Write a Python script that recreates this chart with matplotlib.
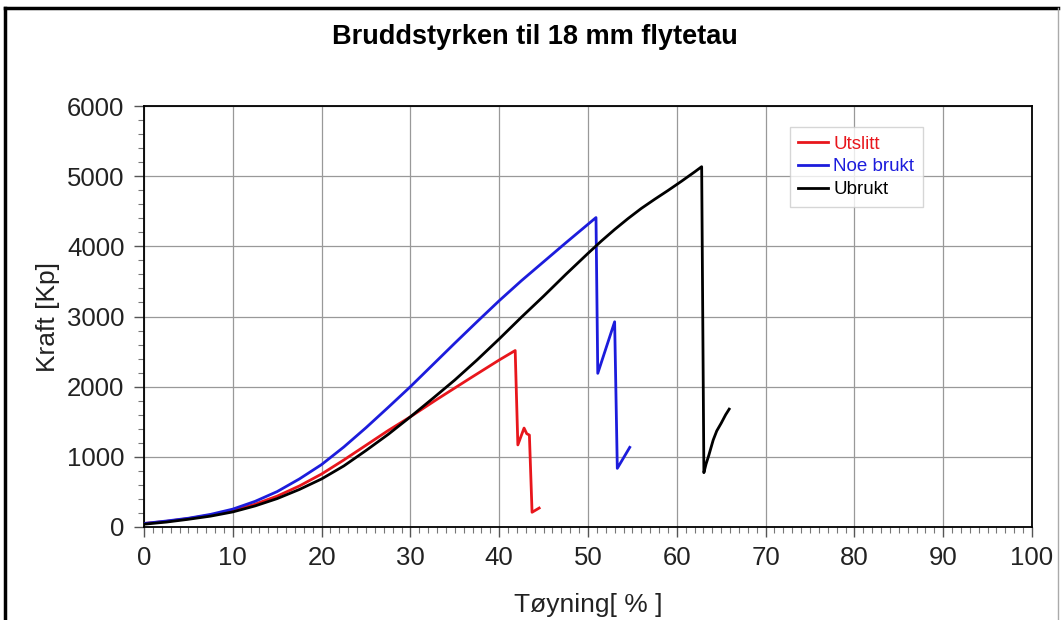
import matplotlib
matplotlib.use('Agg')
import matplotlib.pyplot as plt
from matplotlib.lines import Line2D
from matplotlib.ticker import MultipleLocator

plt.rcParams['font.family'] = ['Liberation Sans', 'DejaVu Sans']

# Utslitt (red)
utslitt_x = [0, 2.5, 5, 7.5, 10, 12.5, 15, 17.5, 20, 22.5, 25, 27.5, 30, 33, 36.7, 40, 41.8,
             42.1, 42.8, 43.1, 43.4, 43.7, 44.5]
utslitt_y = [50, 80, 120, 170, 235, 325, 440, 585, 755, 955, 1165, 1375, 1571, 1820, 2118, 2380, 2515,
             1170, 1410, 1330, 1310, 210, 270]

# Noe brukt (blue)
noe_x = [0, 2.5, 5, 7.5, 10, 12.5, 15, 17.5, 20, 22.5, 25, 27.5, 30, 32.5, 35, 37.5, 40, 42.5,
         45, 47.5, 50.9, 51.1, 53.0, 53.3, 54.7]
noe_y = [50, 85, 125, 180, 255, 365, 505, 685, 890, 1140, 1415, 1705, 2000, 2310, 2620, 2925, 3225, 3510,
         3780, 4050, 4410, 2190, 2925, 836, 1135]

# Ubrukt (black)
ubrukt_x = [0, 2.5, 5, 7.5, 10, 12.5, 15, 17.5, 20, 22.5, 25, 27.5, 30, 32.5, 35, 37.5, 40, 42.5,
            45, 47.5, 50, 51.5, 53, 54.5, 56, 57.5, 59, 60.5, 62, 62.8,
            63.05, 63.3, 63.6, 64.1, 64.5, 65.0, 65.5, 65.9]
ubrukt_y = [40, 70, 110, 155, 215, 300, 405, 535, 685, 870, 1090, 1320, 1570, 1830, 2095, 2380, 2680, 2990,
            3290, 3600, 3900, 4075, 4240, 4395, 4540, 4670, 4795, 4925, 5060, 5135,
            774, 900, 1020, 1240, 1370, 1480, 1600, 1680]

fig = plt.figure(figsize=(10.63, 6.2), dpi=100)
ax = fig.add_axes([144/1063, 1 - 527/620, (1032-144)/1063, (527-106)/620])

ax.plot(utslitt_x, utslitt_y, color='#e8161c', lw=2, label='Utslitt', zorder=3)
ax.plot(noe_x, noe_y, color='#1c1cdc', lw=2, label='Noe brukt', zorder=3)
ax.plot(ubrukt_x, ubrukt_y, color='black', lw=2, label='Ubrukt', zorder=3)

ax.set_xlim(0, 100)
ax.set_ylim(0, 6000)
ax.xaxis.set_major_locator(MultipleLocator(10))
ax.xaxis.set_minor_locator(MultipleLocator(1))
ax.yaxis.set_major_locator(MultipleLocator(1000))
ax.yaxis.set_minor_locator(MultipleLocator(200))
ax.grid(True, which='major', color='#999999', lw=0.9)
ax.tick_params(which='major', length=7, width=1, labelsize=18.5, color='#555555', pad=7,
               labelcolor='#222222')
ax.tick_params(which='minor', length=4, width=0.8, color='#777777')
for s in ax.spines.values():
    s.set_linewidth(1.3)

ax.set_xlabel('Tøyning[ % ]', fontsize=19, labelpad=16, color='#222222')
ax.set_ylabel('Kraft [Kp]', fontsize=19, labelpad=5, color='#222222')
fig.text(535/1063, 1 - 37/620, 'Bruddstyrken til 18 mm flytetau', fontsize=19.5,
         fontweight='bold', ha='center', va='center')

leg = ax.legend(loc='upper left', bbox_to_anchor=((790-144)/888, (527-127)/421),
                fontsize=13.5, frameon=True, fancybox=False, handlelength=1.6,
                handletextpad=0.25, borderpad=0.45, labelspacing=0.3, borderaxespad=0)
leg.get_frame().set_edgecolor('#cccccc')
leg.get_frame().set_linewidth(1)
for line, text in zip(leg.get_lines(), leg.get_texts()):
    text.set_color(line.get_color())

# figure border
fig.add_artist(Line2D([5/1063, 5/1063], [0, 1 - 8/620], color='black', lw=2.5))
fig.add_artist(Line2D([5/1063, 1058/1063], [1 - 8/620, 1 - 8/620], color='black', lw=2.5))
fig.add_artist(Line2D([1058/1063, 1058/1063], [0, 1 - 8/620], color='#aaaaaa', lw=1))

fig.savefig('out.png', dpi=100)
